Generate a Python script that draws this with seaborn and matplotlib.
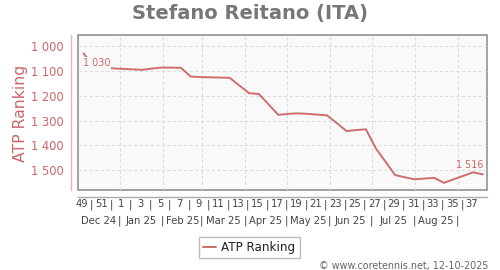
import matplotlib
matplotlib.use("Agg")
import matplotlib.pyplot as plt
import matplotlib.dates as mdates
import matplotlib.transforms as mtransforms
import seaborn as sns
import pandas as pd
import numpy as np

# ---------------- data ----------------
first_date = "2024-12-06"
ranks = [1030, 1082, 1087, 1090, 1092, 1094, 1096, 1091, 1087, 1087,
         1088, 1123, 1125, 1126, 1127, 1128, 1159, 1190, 1193, 1235,
         1277, 1273, 1271, 1273, 1276, 1279, 1310, 1342, 1338, 1335,
         1411, 1465, 1519, 1528, 1536, 1533, 1530, 1550, 1536, 1522,
         1508, 1516]
week_labels = ["49", "51", "1", "3", "5", "7", "9", "11", "13", "15", "17",
               "19", "21", "23", "25", "27", "29", "31", "33", "35", "37"]
first_week_thursday = "2024-12-05"
month_labels = ["Dec 24", "Jan 25", "Feb 25", "Mar 25", "Apr 25",
                "May 25", "Jun 25", "Jul 25", "Aug 25"]
month_starts = ["2025-01-01", "2025-02-01", "2025-03-01", "2025-04-01",
                "2025-05-01", "2025-06-01", "2025-07-01", "2025-08-01",
                "2025-09-01"]
y_ticks = [1000, 1100, 1200, 1300, 1400, 1500]
x_range = ("2024-12-02", "2025-09-22")
y_range = (1579, 956)

title = "Stefano Reitano (ITA)"
series_name = "ATP Ranking"
credit = "\u00a9 www.coretennis.net, 12-10-2025"

# ---------------- style ----------------
RED = "#cc6666"
LINE = "#cf6d6d"
AXRED = "#e3b5b5"
GRID = "#dddddd"
FRAME = "#8a8a8a"
BG = "#f9f9f9"
TXT = "#444444"

sns.set_style("white")
plt.rcParams["font.family"] = ["DejaVu Sans"]

dates = pd.date_range(first_date, periods=len(ranks), freq="7D")
df = pd.DataFrame({"date": dates, "rank": ranks})

fig = plt.figure(figsize=(5.0, 2.7), dpi=100)
ax = fig.add_axes([78 / 500, (270 - 190) / 270, 409 / 500, 155 / 270])

sns.lineplot(data=df, x="date", y="rank", ax=ax, color=LINE, linewidth=1.4,
             label=series_name)

ax.set_xlim(pd.Timestamp(x_range[0]), pd.Timestamp(x_range[1]))
ax.set_ylim(*y_range)

# plot area
ax.patch.set_facecolor(BG)
ax.patch.set_edgecolor(FRAME)
ax.patch.set_linewidth(1.1)
for s in ["top", "right"]:
    ax.spines[s].set_visible(False)
ax.spines["left"].set_position(("outward", 5))
ax.spines["left"].set_color(AXRED)
ax.spines["left"].set_linewidth(1.0)
ax.spines["bottom"].set_position(("outward", 5))
ax.spines["bottom"].set_color("#aaaaaa")
ax.spines["bottom"].set_linewidth(1.0)

# y axis
ax.set_yticks(y_ticks)
ax.set_yticklabels([f"{v:,}".replace(",", " ") for v in y_ticks])
ax.tick_params(axis="y", colors=AXRED, labelcolor=RED, labelsize=8.3,
               length=3, width=1, pad=2.5)
ax.yaxis.grid(True, color=GRID, linestyle=(0, (3, 2)), linewidth=0.8)
ax.set_ylabel("")
ax.set_xlabel("")

# vertical grid at month boundaries
ms = pd.to_datetime(month_starts)
ax.vlines(ms, 0, 1, transform=ax.get_xaxis_transform(), colors=GRID,
          linestyles=(0, (3, 2)), linewidth=0.8, zorder=0.5)

# week ticks
wk_pos = pd.date_range(first_week_thursday, periods=len(week_labels), freq="14D")
sep_pos = wk_pos[:-1] + pd.Timedelta(days=7)
ax.set_xticks(mdates.date2num(wk_pos))
ax.set_xticklabels(week_labels)
ax.set_xticks(mdates.date2num(sep_pos), minor=True)
ax.set_xticklabels(["|"] * len(sep_pos), minor=True)
ax.tick_params(axis="x", which="both", length=0, labelsize=7.2,
               labelcolor=TXT, pad=1.8)

# month row
tr = mtransforms.blended_transform_factory(ax.transData, ax.transAxes)
xl0 = pd.Timestamp(x_range[0])
m_bounds = [xl0] + list(ms)
for i, lab in enumerate(month_labels):
    a, b = m_bounds[i], m_bounds[i + 1]
    c = a + (b - a) / 2
    ax.text(mdates.date2num(c), -31 / 155, lab, transform=tr, ha="center",
            va="center", fontsize=7.2, color=TXT)
for m in ms:
    ax.text(mdates.date2num(m), -31 / 155, "|", transform=tr, ha="center",
            va="center", fontsize=7.2, color=TXT)

# first / last value labels
ax.annotate(f"{ranks[0]:,}".replace(",", " "), (dates[0], ranks[0]),
            xytext=(-0.5, -3.5), textcoords="offset points", ha="left",
            va="top", fontsize=6.9, color=RED,
            bbox=dict(facecolor=BG, edgecolor="none", pad=0.6))
ax.annotate(f"{ranks[-1]:,}".replace(",", " "), (dates[-1], ranks[-1]),
            xytext=(0.5, 3), textcoords="offset points", ha="right",
            va="bottom", fontsize=6.9, color=RED)

# legend
leg = ax.legend(loc="center", bbox_to_anchor=(249 / 500, 1 - 247.5 / 270),
                bbox_transform=fig.transFigure, fancybox=False,
                edgecolor="#bbbbbb", framealpha=1, fontsize=8.6,
                handlelength=1.15, handletextpad=0.4, borderpad=0.35)
for t in leg.get_texts():
    t.set_color("#222222")

# titles
fig.text(0.5, 1 - 13 / 270, title, ha="center", va="center", fontsize=14,
         fontweight="bold", color="#777777")
fig.text(20.5 / 500, 1 - 113 / 270, series_name, rotation=90, ha="center",
         va="center", fontsize=11.3, color=RED)
fig.text(488 / 500, 1 - 265.5 / 270, credit, ha="right", va="center",
         fontsize=6.9, color="#666666")

fig.savefig("out.png", dpi=100)
